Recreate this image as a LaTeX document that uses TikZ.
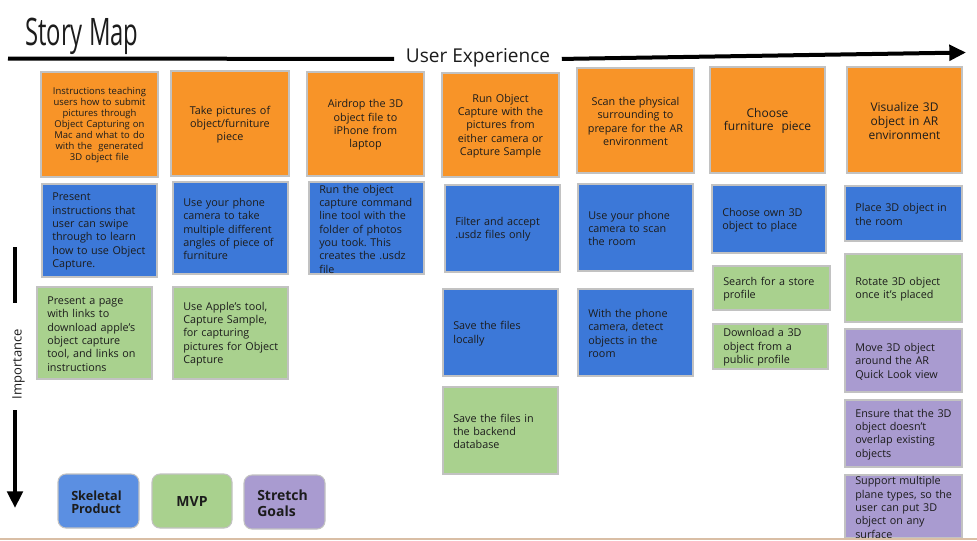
\documentclass[tikz,border=0pt]{standalone}
\usepackage{fontspec}
\setmainfont{Open Sans}
\usepackage{graphicx}
\usetikzlibrary{arrows.meta}
\definecolor{corange}{HTML}{F89428}
\definecolor{cblue}{HTML}{3C78D8}
\definecolor{cgreen}{HTML}{A9D18E}
\definecolor{cpurple}{HTML}{A99BD0}
\definecolor{lblue}{HTML}{5B8FE2}
\definecolor{cedge}{HTML}{C2C2C2}
\definecolor{ctan}{HTML}{D9BEA5}
\definecolor{ink}{HTML}{1C1C1C}
\frenchspacing
\newcommand\lcard[7]{%
  \draw[cardedge,fill=#6] (#2,#3) rectangle (#4,#5);
  \node[lefttext,anchor=west] (#1) at ({#2+10},{(#3+#5)/2+1}) {#7};}
\newcommand\ocard[7]{%
  \draw[cardedge,fill=corange] (#2,#3) rectangle (#4,#5);
  \node[centertext,#6] (#1) at ({(#2+#4)/2},{(#3+#5)/2+1}) {#7};}
\newcommand\legbox[6]{%
  \draw[legedge,fill=#6] (#2,#3) rectangle (#4,#5);}
\begin{document}
\begin{tikzpicture}[x=0.75pt,y=-0.75pt,
  cardedge/.style={draw=cedge,line width=0.8pt},
  legedge/.style={draw=cedge,line width=0.8pt,rounded corners=6pt},
  lefttext/.style={inner sep=0pt,align=left,text width=75pt,text=ink,
    font=\fontsize{8.1}{10}\selectfont},
  centertext/.style={inner sep=0pt,align=center,text width=84pt,text=ink,
    font=\fontsize{8.1}{10}\selectfont},
  smallo/.style={font=\fontsize{7.1}{8.25}\selectfont},
  bigo/.style={font=\fontsize{9}{10.3}\selectfont},
  thickline/.style={line width=3pt,draw=black},
  tip/.style={-{Triangle[length=12.5pt,width=11.5pt]}}
]
\useasboundingbox[fill=white] (0,0) rectangle (977,540);
% title
\node[inner sep=0pt,anchor=base west,text=ink] (title) at (25,45)
  {\scalebox{0.63}[1]{\fontsize{28.4}{30}\selectfont Story Map}};
% user experience axis
\coordinate (hs) at (8,58.5);
\coordinate (he) at (966,52.5);
\node[inner sep=0pt,anchor=base,text=ink,minimum width=167*0.75pt,
  font=\fontsize{14.3}{17}\selectfont] (ux) at (478,62.5) {User Experience};
\draw[thickline] (hs) -- (ux.mid west);
\draw[thickline,tip] (ux.mid east) -- (he);
% importance axis
\coordinate (i1) at (15,247);
\coordinate (i2) at (15,303);
\coordinate (i3) at (15,410);
\coordinate (i4) at (15,508);
\node[inner sep=0pt,rotate=90,text=ink,font=\fontsize{9.75}{12}\selectfont]
  (imp) at (18.5,364) {Importance};
\draw[thickline] (i1) -- (i2);
\draw[thickline,tip] (i3) -- (i4);
% orange activity cards
\ocard{o1}{41}{72}{158}{177}{smallo}{Instructions teaching\\users how to submit\\pictures through\\Object Capturing on\\Mac and what to do\\with the\ \ generated\\3D object file}
\ocard{o2}{171}{71}{289}{176}{}{Take pictures of\\object/furniture\\piece}
\ocard{o3}{307}{72}{424}{176}{}{Airdrop the 3D\\object file to\\iPhone from\\laptop}
\ocard{o4}{442}{73}{559}{177}{}{Run Object\\Capture with the\\pictures from\\either camera or\\Capture Sample}
\ocard{o5}{577}{68}{694}{173}{}{Scan the physical\\surrounding to\\prepare for the AR\\environment}
\ocard{o6}{710}{67}{825}{173}{bigo}{Choose\\furniture\ \ piece}
\ocard{o7}{847}{67}{962}{173}{bigo}{Visualize 3D\\object in AR\\environment}
% column 1
\lcard{b1}{42}{184}{157}{277}{cblue}{Present\\instructions that\\user can swipe\\through to learn\\how to use Object\\Capture.}
\lcard{g1}{37}{287}{152}{379}{cgreen}{Present a page\\with links to\\download apple’s\\object capture\\tool, and links on\\instructions}
% column 2
\lcard{b2}{173}{182}{288}{274}{cblue}{Use your phone\\camera to take\\multiple different\\angles of piece of\\furniture}
\lcard{g2}{173}{287}{288}{379}{cgreen}{Use Apple’s tool,\\Capture Sample,\\for capturing\\pictures for Object\\Capture}
% column 3
\lcard{b3}{309}{182}{424}{274}{cblue}{Run the object\\capture command\\line tool with the\\folder of photos\\you took. This\\creates the .usdz\\file}
% column 4
\lcard{b4}{445}{185}{560}{272}{cblue}{Filter and accept\\.usdz files only}
\lcard{b5}{443}{289}{558}{376}{cblue}{Save the files\\locally}
\lcard{g4}{443}{387}{558}{474}{cgreen}{Save the files in\\the backend\\database}
% column 5
\lcard{b6}{578}{184}{693}{271}{cblue}{Use your phone\\camera to scan\\the room}
\lcard{b7}{578}{289}{693}{376}{cblue}{With the phone\\camera, detect\\objects in the\\room}
% column 6
\lcard{b8}{712}{185}{826}{253}{cblue}{Choose own 3D\\object to place}
\lcard{g6}{713}{266}{830}{310}{cgreen}{Search for a store\\profile}
\lcard{g7}{713}{324}{828}{369}{cgreen}{Download a 3D\\object from a\\public profile}
% column 7
\lcard{b9}{845}{186}{962}{241}{cblue}{Place 3D object in\\the room}
\lcard{g8}{845}{254}{962}{322}{cgreen}{Rotate 3D object\\once it’s placed}
\lcard{p1}{845}{329}{962}{392}{cpurple}{Move 3D object\\around the AR\\Quick Look view}
\lcard{p2}{845}{400}{962}{467}{cpurple}{Ensure that the 3D\\object doesn’t\\overlap existing\\objects}
\lcard{p3}{845}{475}{962}{538}{cpurple}{Support multiple\\plane types, so the\\user can put 3D\\object on any\\surface}
% legend
\legbox{l1}{58}{474}{139}{528}{lblue}
\node[inner sep=0pt,anchor=west,align=left,text=ink,
  font=\fontsize{9.5}{10}\selectfont\bfseries] (skel) at (71,502) {Skeletal\\Product};
\legbox{l2}{152}{474}{232}{528}{cgreen}
\node[inner sep=0pt,text=ink,font=\fontsize{10.5}{11.8}\selectfont\bfseries]
  (mvp) at (192,501.5) {MVP};
\legbox{l3}{244}{475}{325}{529}{cpurple}
\node[inner sep=0pt,anchor=west,align=left,text=ink,
  font=\fontsize{10.5}{11.8}\selectfont\bfseries] (stretch) at (257,503.5) {Stretch\\Goals};
% bottom rule
\draw[draw=ctan,line width=1.5pt] (0,538.8) -- (977,538.8);
\end{tikzpicture}
\end{document}
